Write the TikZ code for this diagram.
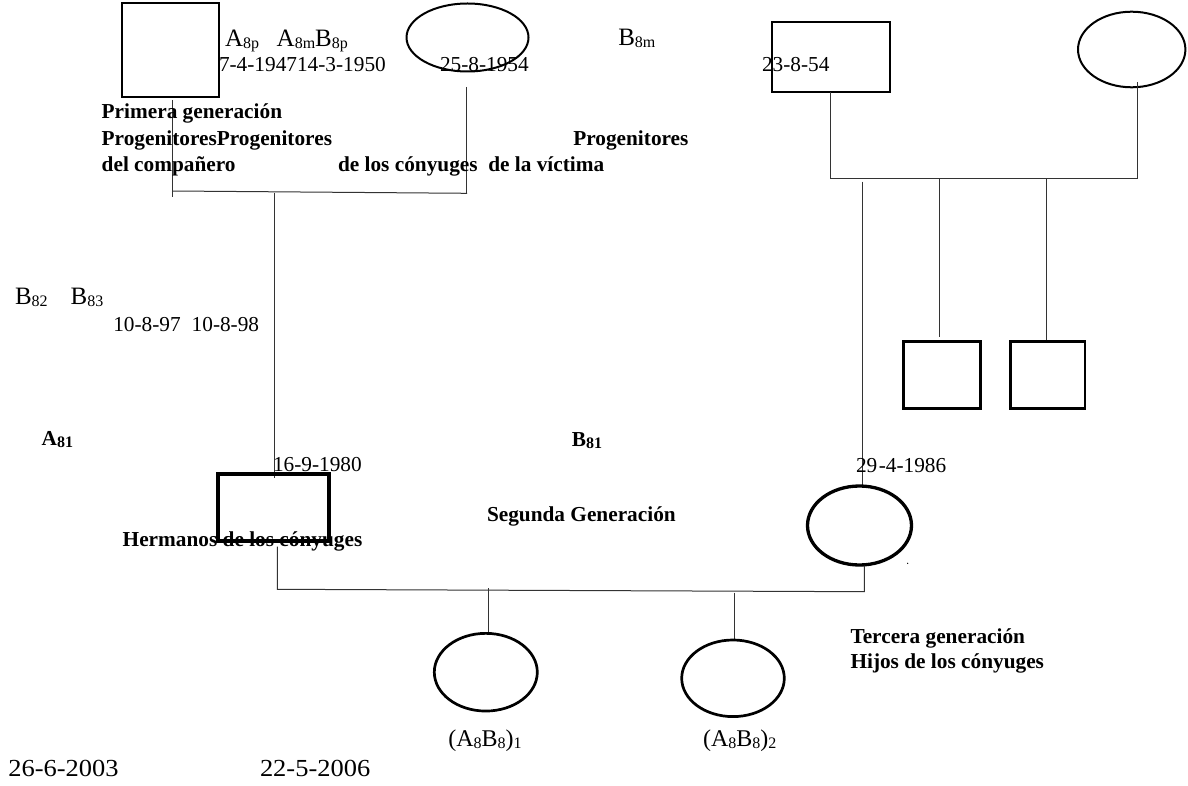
\documentclass[tikz,border=0pt]{standalone}
\usepackage{fontspec}
\setmainfont{Liberation Serif}
\usetikzlibrary{shapes.geometric}
\newcommand{\fs}{\fontsize{21.3}{24}\selectfont}
\newcommand{\bigfs}{\fontsize{25}{28}\selectfont}
\newcommand{\sbs}[1]{\raisebox{-1.5pt}{\fontsize{16}{16}\selectfont #1}}
\tikzset{
  lbl/.style={anchor=base west, inner sep=0pt, outer sep=0pt, font=\fs},
  blbl/.style={lbl, font=\fs\bfseries},
  biglbl/.style={lbl, font=\bigfs},
  conn/.style={line width=1pt, draw=black!80},
  boxnode/.style={draw, rectangle, inner sep=0pt, outer sep=0pt, line width=#1},
  ovalnode/.style={draw, ellipse, inner sep=0pt, outer sep=0pt, line width=#1}
}
\begin{document}
\begin{tikzpicture}[x=1pt,y=-1pt]
\useasboundingbox (0,0) rectangle (1188,786);

% ---------- first generation, left family ----------
\node[boxnode=2pt, minimum width=97pt, minimum height=93.5pt] (sqA) at (170.5,50.25) {};
\node[ovalnode=2pt, minimum width=122pt, minimum height=68pt] (ellA) at (467.5,37.5) {};

\coordinate (a1) at (172,100);
\coordinate (a2) at (172,197);
\coordinate (a3) at (172,191);
\coordinate (a4) at (467,193.3);
\coordinate (a5) at (466,87);
\coordinate (a6) at (466,193.3);
\coordinate (a7) at (274,193);
\coordinate (a8) at (274,477.5);
\draw[conn] (a1) -- (a2);
\draw[conn] (a3) -- (a4);
\draw[conn] (a5) -- (a6);
\draw[conn] (a7) -- (a8);

% ---------- first generation, right family ----------
\node[boxnode=2.5pt, minimum width=118pt, minimum height=70pt] (rectB) at (831,57) {};
\node[ovalnode=2pt, minimum width=107.4pt, minimum height=75.6pt] (ellB) at (1131.7,49.5) {};

\coordinate (b1) at (830,92);
\coordinate (b2) at (830,179);
\coordinate (b3) at (1137,179);
\coordinate (b4) at (1137,81.7);
\coordinate (c1) at (862.5,181.7);
\coordinate (c1e) at (862.5,486);
\coordinate (c2) at (939,179);
\coordinate (c2e) at (939,336.7);
\coordinate (c3) at (1046.7,179);
\coordinate (c3e) at (1046.7,341.7);
\draw[conn] (b1) -- (b2) -- (b3) -- (b4);
\draw[conn] (c1) -- (c1e);
\draw[conn] (c2) -- (c2e);
\draw[conn] (c3) -- (c3e);

\node[boxnode=2.5pt, minimum width=77.4pt, minimum height=66.6pt] (sib1) at (942,375) {};
\node[boxnode=2.5pt, minimum width=74.3pt, minimum height=66.6pt] (sib2) at (1047.85,375) {};

% ---------- second generation ----------
\node[boxnode=4pt, minimum width=111pt, minimum height=66.7pt] (spA) at (273.5,507.35) {};
\node[ovalnode=3.3pt, minimum width=104pt, minimum height=79pt] (spB) at (859.5,525.5) {};
\fill (907.7,563.3) circle (0.7pt);

\coordinate (d1) at (277.3,546.7);
\coordinate (d2) at (277.3,589.3);
\coordinate (d3) at (864.3,591.7);
\coordinate (d4) at (864.3,565.7);
\draw[conn] (d1) -- (d2) -- (d3) -- (d4);

\coordinate (e1) at (488,588.3);
\coordinate (e1e) at (488,633.3);
\coordinate (e2) at (734.6,592.7);
\coordinate (e2e) at (734.6,640);
\draw[conn] (e1) -- (e1e);
\draw[conn] (e2) -- (e2e);

% ---------- third generation ----------
\node[ovalnode=2.7pt, minimum width=103pt, minimum height=77.7pt] (ch1) at (485.8,672.2) {};
\node[ovalnode=2.7pt, minimum width=102.6pt, minimum height=76.6pt] (ch2) at (733,678.3) {};

% ---------- labels ----------
\node[biglbl] (tA8p) at (225,47) {A\sbs{8p}};
\node[biglbl] (tA8m) at (276.7,47) {A\sbs{8m}B\sbs{8p}};
\node[lbl] (d7) at (219,71.5) {7-4-194714-3-1950};
\node[lbl] (d25) at (440,71.5) {25-8-1954};
\node[biglbl] (tB8m) at (618.3,46) {B\sbs{8m}};
\node[lbl] (d23) at (762,71.5) {23-8-54};

\node[blbl] (t1) at (101.7,119) {Primera generación};
\node[blbl] (t2) at (101.7,146) {ProgenitoresProgenitores};
\node[blbl] (t3) at (573.3,145.5) {Progenitores};
\node[blbl] (t4) at (101.7,172) {del compañero};
\node[blbl] (t5) at (338,172) {de los cónyuges\ \ de la víctima};

\node[biglbl] (tB82) at (15,305) {B\sbs{82}};
\node[biglbl] (tB83) at (70.7,305) {B\sbs{83}};
\node[lbl] (d10a) at (113.3,331) {10-8-97};
\node[lbl] (d10b) at (191.7,331) {10-8-98};

\node[blbl] (tA81) at (41.7,445.7) {A\sbs{81}};
\node[blbl] (tB81) at (571.8,446.7) {B\sbs{81}};
\node[lbl] (d16) at (273,471.7) {16-9-1980};
\node[lbl] (d29) at (856,472) {29\kern1.5pt-4-1986};
\node[blbl] (t6) at (122.7,546) {Hermanos de los cónyuges};
\node[blbl] (t7) at (487,521.7) {Segunda Generación};

\node[blbl] (t8) at (850.5,643) {Tercera generación};
\node[blbl] (t9) at (850.5,668) {Hijos de los cónyuges};

\node[lbl, font=\fontsize{24}{26}\selectfont] (n1) at (448.3,746.7) {(A\sbs{8}B\sbs{8})\sbs{1}};
\node[lbl, font=\fontsize{24}{26}\selectfont] (n2) at (703,746.7) {(A\sbs{8}B\sbs{8})\sbs{2}};

\node[lbl, font=\fontsize{24.5}{27}\selectfont] (d26) at (8.3,776) {\scalebox{1.08}[1]{26-6-2003}};
\node[lbl, font=\fontsize{24.5}{27}\selectfont] (d22) at (260,776) {\scalebox{1.08}[1]{22-5-2006}};
\end{tikzpicture}
\end{document}
